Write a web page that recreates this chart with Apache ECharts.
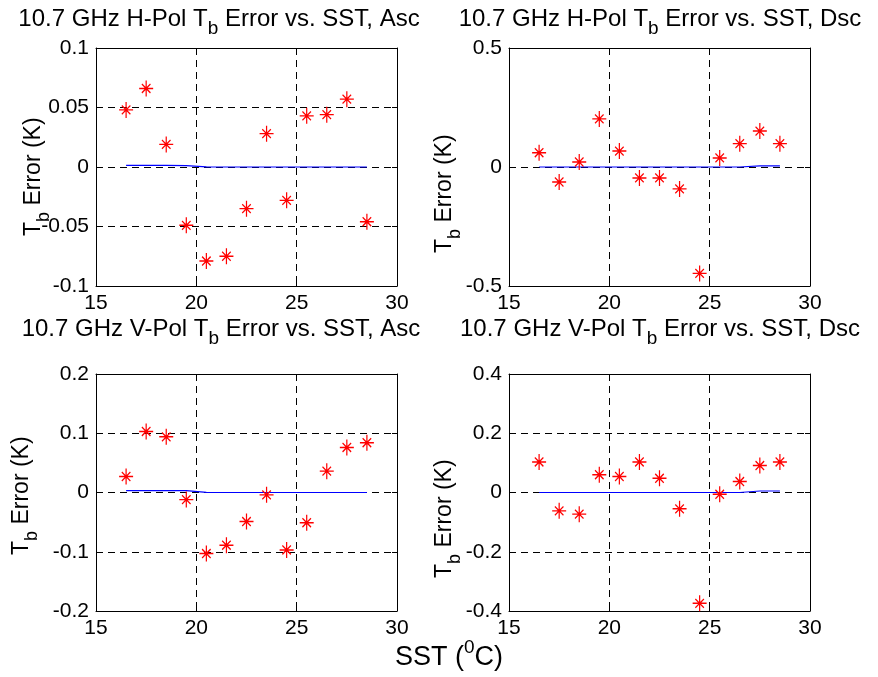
<!DOCTYPE html>
<html><head><meta charset="utf-8">
<script src="https://cdn.jsdelivr.net/npm/echarts@6/dist/echarts.min.js"></script>
<style>html,body{margin:0;padding:0;background:#fff}#c{width:878px;height:677px}</style>
</head><body><div id="c"></div>
<script>
// ---- data ----
const sst = [16.5, 17.5, 18.5, 19.5, 20.5, 21.5, 22.5, 23.5, 24.5, 25.5, 26.5, 27.5, 28.5];
const hAscErr   = [0.048, 0.066, 0.019, -0.049, -0.079, -0.075, -0.035, 0.028, -0.028, 0.043, 0.044, 0.057, -0.046];
const hAscModel = [0.0013, 0.0013, 0.0013, 0.0012, 0.0001, 0, 0, 0, 0, 0, 0, 0, 0];
const hDscErr   = [0.060, -0.063, 0.021, 0.202, 0.067, -0.046, -0.046, -0.092, -0.447, 0.038, 0.098, 0.151, 0.098];
const hDscModel = [0, 0, 0, 0, 0, 0, 0, 0, 0, 0, 0, 0.005, 0.005];
const vAscErr   = [0.027, 0.103, 0.094, -0.012, -0.103, -0.089, -0.049, -0.004, -0.097, -0.051, 0.036, 0.076, 0.084];
const vAscModel = [0.003, 0.003, 0.003, 0.003, 0.0003, 0, 0, 0, 0, 0, 0, 0, 0];
const vDscErr   = [0.103, -0.062, -0.073, 0.060, 0.054, 0.103, 0.048, -0.055, -0.374, -0.006, 0.037, 0.091, 0.103];
const vDscModel = [0, 0, 0, 0, 0, 0, 0, 0, 0, 0, 0, 0.005, 0.005];

const xTicks = [15, 20, 25, 30];
const yTicksHAsc = [-0.1, -0.05, 0, 0.05, 0.1];
const yTicksHDsc = [-0.5, 0, 0.5];
const yTicksVAsc = [-0.2, -0.1, 0, 0.1, 0.2];
const yTicksVDsc = [-0.4, -0.2, 0, 0.2, 0.4];

const titleParts = [
  ['10.7 GHz H-Pol T', 'b', ' Error vs. SST, Asc'],
  ['10.7 GHz H-Pol T', 'b', ' Error vs. SST, Dsc'],
  ['10.7 GHz V-Pol T', 'b', ' Error vs. SST, Asc'],
  ['10.7 GHz V-Pol T', 'b', ' Error vs. SST, Dsc']
];
const yLabelParts = ['T', 'b', ' Error (K)'];
const xLabelParts = ['SST (', '0', 'C)'];

// ---- layout ----
const FONT = 'Liberation Sans, Arial, Helvetica, sans-serif';
const panels = [
  { grid: {left: 96, top: 48, width: 301, height: 238}, err: hAscErr, model: hAscModel, yt: yTicksHAsc,
    title: [219, 24], ylab: [39, 236] },
  { grid: {left: 509, top: 48, width: 301, height: 238}, err: hDscErr, model: hDscModel, yt: yTicksHDsc,
    title: [660, 24], ylab: [450, 253] },
  { grid: {left: 96, top: 374, width: 301, height: 237}, err: vAscErr, model: vAscModel, yt: yTicksVAsc,
    title: [221, 334], ylab: [27, 555] },
  { grid: {left: 509, top: 374, width: 301, height: 237}, err: vDscErr, model: vDscModel, yt: yTicksVDsc,
    title: [660, 334], ylab: [450, 578] }
];

const black = '#000';
const asterisk = 'path://M0,-10 L0,10 M-9,0 L9,0 M-5.5,-5.5 L5.5,5.5 M-5.5,5.5 L5.5,-5.5';

const grid = [], xAxis = [], yAxis = [], series = [], graphic = [];

const subRich = (size) => ({
  a: {fontSize: size, lineHeight: size, fontFamily: FONT, color: black, padding: [0, 0, 10, 0]},
  s: {fontSize: Math.round(size * 0.8), lineHeight: Math.round(size * 0.8), fontFamily: FONT, color: black, padding: [10, 0, 0, 0]}
});

panels.forEach((p, i) => {
  grid.push(Object.assign({containLabel: false}, p.grid));
  const yStep = p.yt[1] - p.yt[0];
  const common = {
    type: 'value', gridIndex: i,
    axisLine: {show: true, onZero: false, lineStyle: {color: black, width: 1}},
    axisTick: {show: true, inside: true, length: 5, lineStyle: {color: black, width: 1}},
  };
  xAxis.push(Object.assign({}, common, {
    position: 'bottom', min: xTicks[0], max: xTicks[xTicks.length - 1], interval: xTicks[1] - xTicks[0],
    axisLabel: {show: true, fontSize: 21, color: black, fontFamily: FONT, margin: 7},
    splitLine: {show: true, lineStyle: {color: black, width: 1, type: [7, 5]}}
  }));
  xAxis.push(Object.assign({}, common, {
    position: 'top', min: xTicks[0], max: xTicks[xTicks.length - 1], interval: xTicks[1] - xTicks[0],
    axisLabel: {show: false}, splitLine: {show: false}
  }));
  yAxis.push(Object.assign({}, common, {
    position: 'left', min: p.yt[0], max: p.yt[p.yt.length - 1], interval: yStep,
    axisLabel: {show: true, fontSize: 21, color: black, fontFamily: FONT, margin: 7},
    splitLine: {show: true, lineStyle: {color: black, width: 1, type: [7, 5]}}
  }));
  yAxis.push(Object.assign({}, common, {
    position: 'right', min: p.yt[0], max: p.yt[p.yt.length - 1], interval: yStep,
    axisLabel: {show: false}, splitLine: {show: false}
  }));

  series.push({
    type: 'line', xAxisIndex: 2 * i, yAxisIndex: 2 * i,
    data: sst.map((x, j) => [x, p.model[j]]),
    showSymbol: false, symbol: 'none', silent: true,
    lineStyle: {color: '#0000ff', width: 1.2}, z: 3
  });
  series.push({
    type: 'scatter', xAxisIndex: 2 * i, yAxisIndex: 2 * i,
    data: sst.map((x, j) => [x, p.err[j]]),
    symbol: asterisk, symbolSize: [14, 16],
    itemStyle: {color: 'rgba(0,0,0,0)', borderColor: '#ff0000', borderWidth: 1.3, opacity: 1},
    z: 4
  });

  const t = titleParts[i];
  graphic.push({
    type: 'text', x: p.title[0], y: p.title[1],
    style: {
      text: '{a|' + t[0] + '}{s|' + t[1] + '}{a|' + t[2] + '}',
      rich: subRich(24), textAlign: 'center', textVerticalAlign: 'middle', fill: black
    }
  });
  graphic.push({
    type: 'text', x: p.ylab[0], y: p.ylab[1], rotation: Math.PI / 2,
    style: {
      text: '{a|' + yLabelParts[0] + '}{s|' + yLabelParts[1] + '}{a|' + yLabelParts[2] + '}',
      rich: subRich(23), textAlign: 'left', textVerticalAlign: 'middle', fill: black
    }
  });
});

graphic.push({
  type: 'text', x: 449, y: 654,
  style: {
    text: '{m|' + xLabelParts[0] + '}{p|' + xLabelParts[1] + '}{m|' + xLabelParts[2] + '}',
    rich: {
      m: {fontSize: 27, lineHeight: 27, fontFamily: FONT, color: black, padding: [8, 0, 0, 0]},
      p: {fontSize: 19, lineHeight: 19, fontFamily: FONT, color: black, padding: [0, 0, 12, 0]}
    },
    textAlign: 'center', textVerticalAlign: 'middle', fill: black
  }
});

const chart = echarts.init(document.getElementById('c'), null, {renderer: 'canvas'});
chart.setOption({
  backgroundColor: '#fff',
  animation: false,
  grid, xAxis, yAxis, series, graphic
});
</script>
</body></html>
